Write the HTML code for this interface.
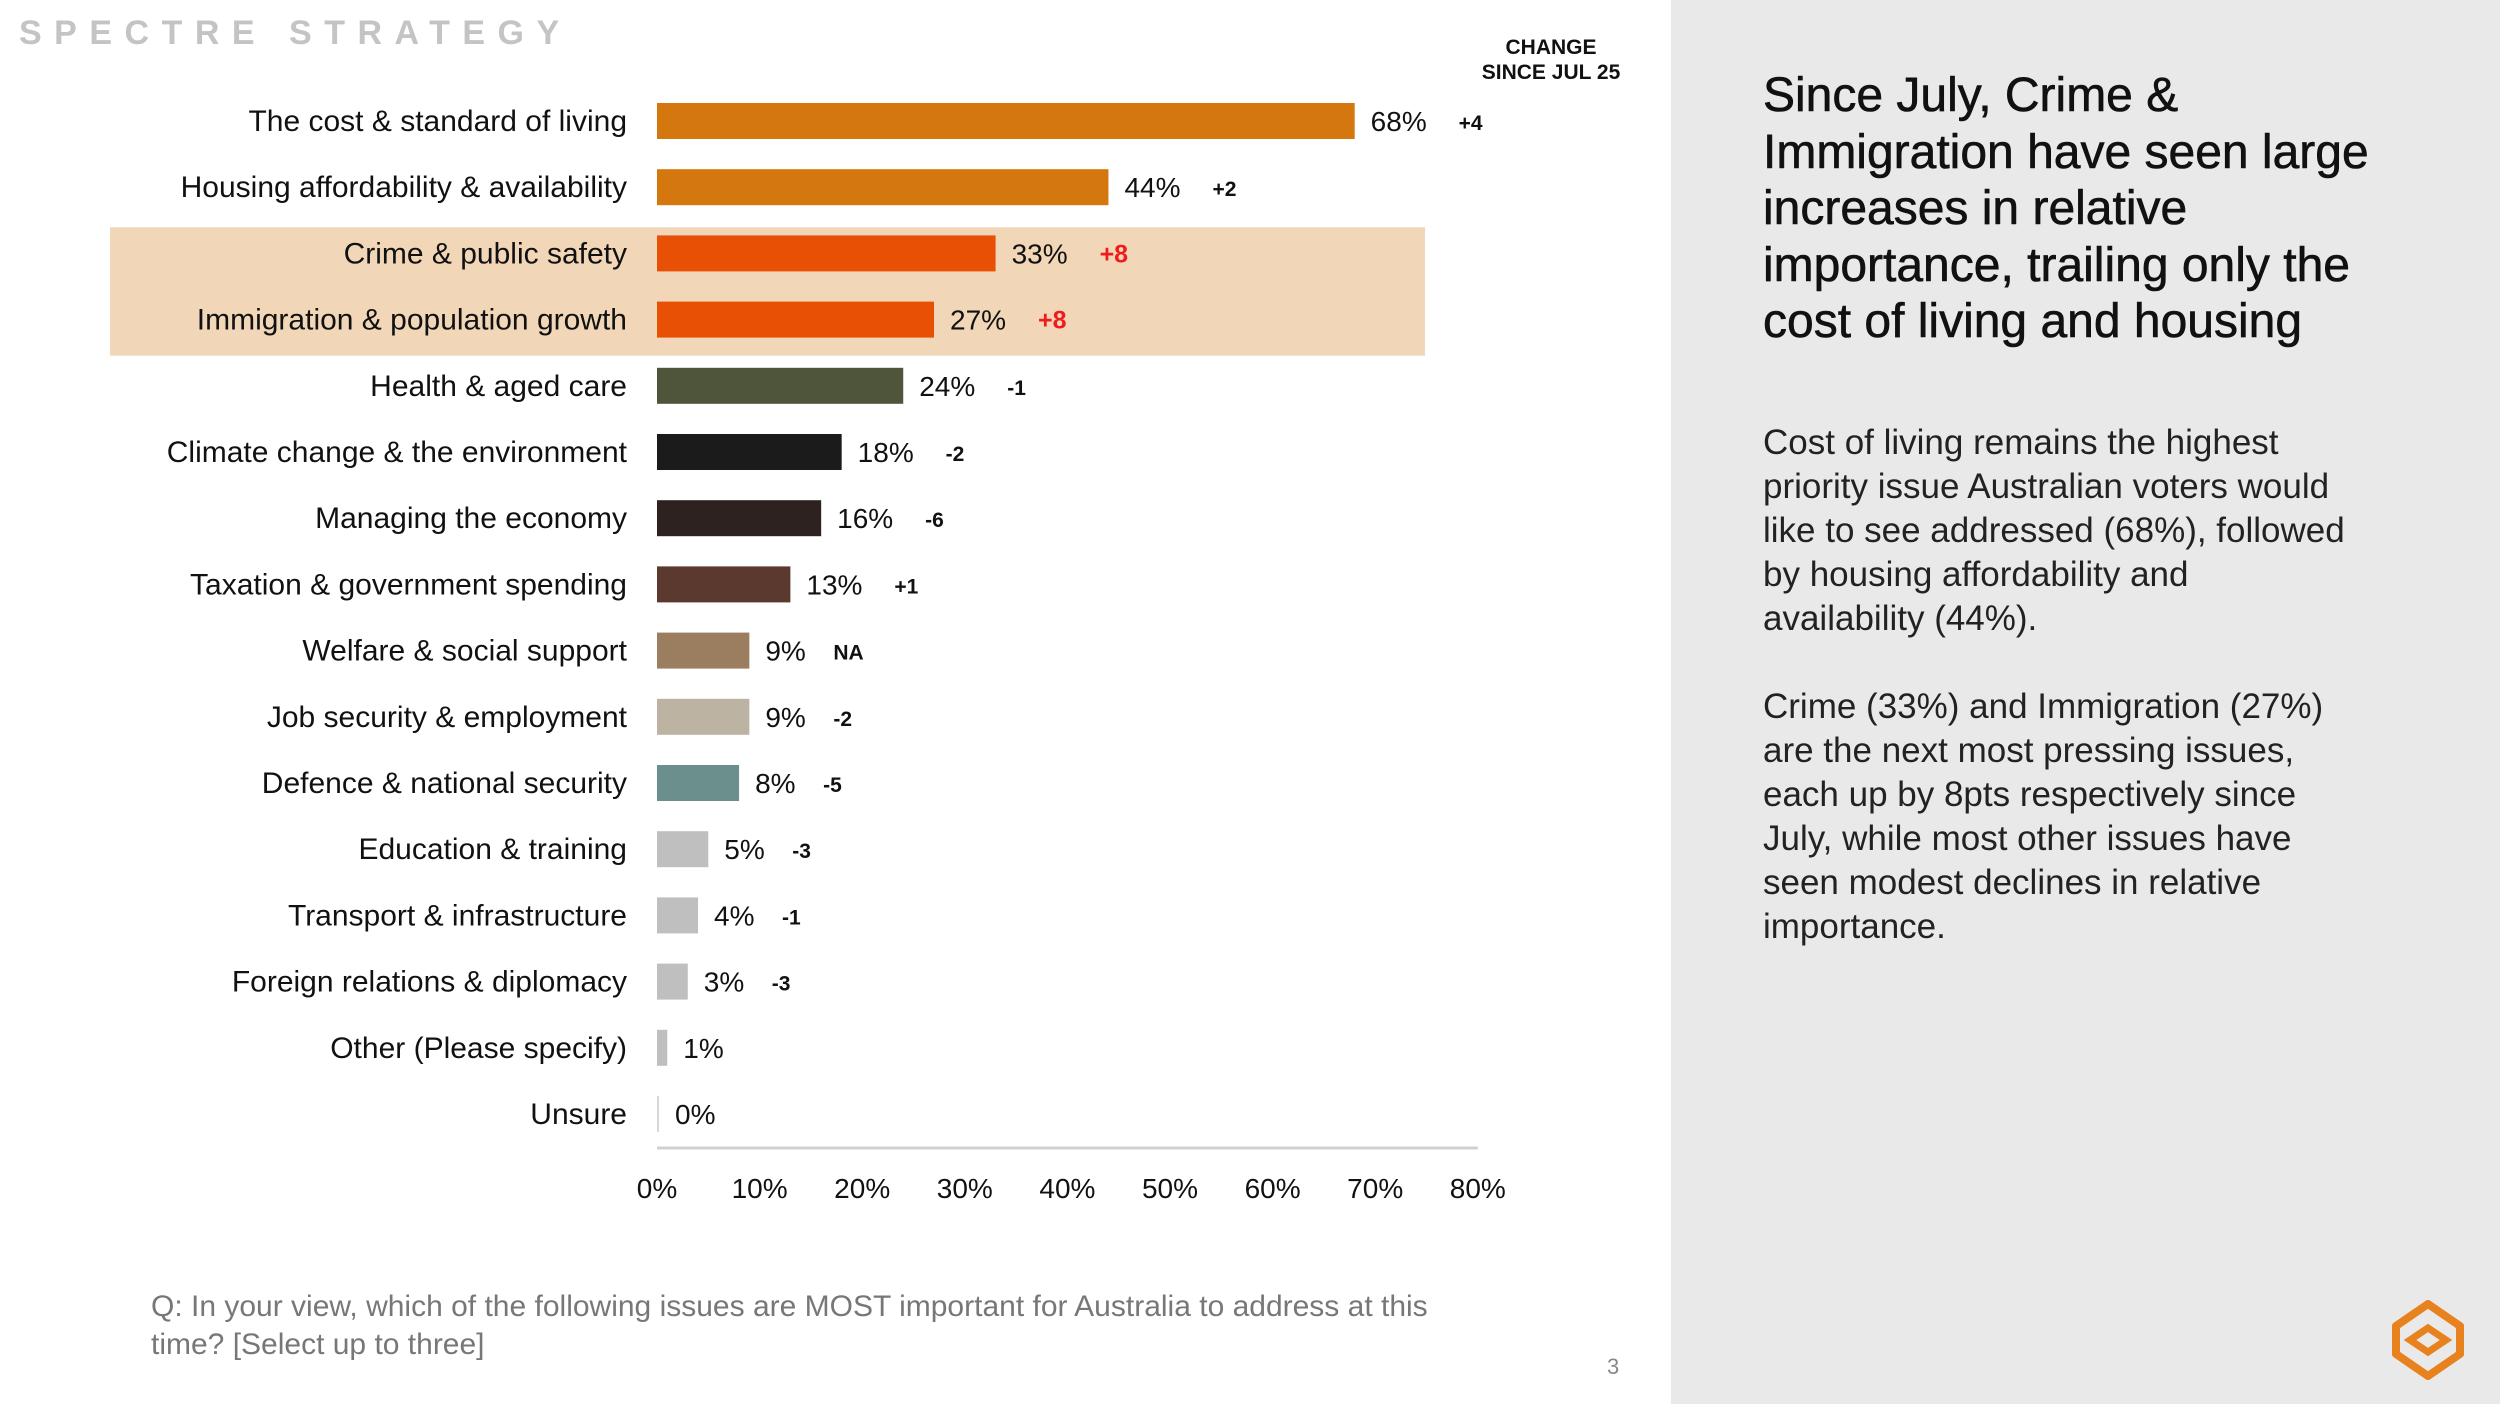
<!DOCTYPE html>
<html><head><meta charset="utf-8"><style>
body{margin:0;width:2500px;height:1404px;overflow:hidden;background:#fff;font-family:"Liberation Sans",sans-serif;position:relative}
.panel{position:absolute;left:1671px;top:0;width:829px;height:1404px;background:#e9e9e9}
.brand{position:absolute;left:19px;top:14px;font-size:34px;letter-spacing:12.5px;color:#c4c4c4;font-weight:bold}
.title{position:absolute;left:1763px;top:68px;font-size:48px;line-height:56.5px;color:#111;white-space:nowrap;-webkit-text-stroke:0.6px #111}
.body{position:absolute;left:1763px;top:421px;font-size:35px;line-height:44px;color:#222;white-space:nowrap}
.q{position:absolute;left:151px;top:1288px;font-size:30px;line-height:38px;color:#777;width:1400px}
.pg{position:absolute;left:1607px;top:1354px;font-size:22px;color:#888}
</style></head><body>
<div class="panel"></div>
<div class="brand">SPECTRE STRATEGY</div>
<div class="title">Since July, Crime &amp;<br>Immigration have seen large<br>increases in relative<br>importance, trailing only the<br>cost of living and housing</div>
<div class="body">Cost of living remains the highest<br>priority issue Australian voters would<br>like to see addressed (68%), followed<br>by housing affordability and<br>availability (44%).<br><br>Crime (33%) and Immigration (27%)<br>are the next most pressing issues,<br>each up by 8pts respectively since<br>July, while most other issues have<br>seen modest declines in relative<br>importance.</div>
<div class="q">Q: In your view, which of the following issues are MOST important for Australia to address at this<br>time? [Select up to three]</div>
<div class="pg">3</div>
<svg style="position:absolute;left:2390px;top:1300px" width="76" height="80" viewBox="0 0 76 80">
<path d="M38 4 L70 26 L70 54 L38 76 L6 54 L6 26 Z" fill="none" stroke="#e8821e" stroke-width="8" stroke-linejoin="round"/>
<path d="M20 40 L38 28 L56 40 L38 52 Z" fill="none" stroke="#e8821e" stroke-width="7"/>
</svg>
<svg id="chart" style="position:absolute;left:0;top:0" width="1671" height="1404"></svg>
<script>
const categories=["The cost & standard of living","Housing affordability & availability","Crime & public safety","Immigration & population growth","Health & aged care","Climate change & the environment","Managing the economy","Taxation & government spending","Welfare & social support","Job security & employment","Defence & national security","Education & training","Transport & infrastructure","Foreign relations & diplomacy","Other (Please specify)","Unsure"];
const values=[68,44,33,27,24,18,16,13,9,9,8,5,4,3,1,0];
const changes=["+4","+2","+8","+8","-1","-2","-6","+1","NA","-2","-5","-3","-1","-3","",""];
const colors=["#d4770f","#d4770f","#e85005","#e85005","#4f553a","#1b1b1b","#2d2220","#5c392e","#9b7d60","#bdb3a3","#6b8f8d","#bfbfbf","#bfbfbf","#bfbfbf","#bfbfbf","#bfbfbf"];
const ticks=[0,10,20,30,40,50,60,70,80];
const highlighted=[2,3];
const svg=document.getElementById('chart');const NS='http://www.w3.org/2000/svg';
const x0=657,pxPer=10.26,yFirst=121,step=66.2,bh=36;
const xs=v=>x0+v*pxPer, ys=i=>yFirst+i*step;
function mk(t,a){const e=document.createElementNS(NS,t);for(const k in a)e.setAttribute(k,a[k]);svg.appendChild(e);return e;}
const hl=mk('rect',{x:110,y:ys(highlighted[0])-step/2+7,width:1315,height:step*highlighted.length-4,fill:'#f2d6b8'});


const h1=mk('text',{x:1551,y:54,'text-anchor':'middle','font-size':21,'font-weight':'bold',fill:'#111'});h1.textContent='CHANGE';


const h2=mk('text',{x:1551,y:79,'text-anchor':'middle','font-size':21,'font-weight':'bold',fill:'#111'});h2.textContent='SINCE JUL 25';


categories.forEach((c,i)=>{
 const y=ys(i);
 const l=mk('text',{x:627,y:y+10,'text-anchor':'end','font-size':30,fill:'#111'});l.textContent=c;
 
 
 const w=Math.max(xs(values[i])-x0,values[i]===0?2:0);
 const r=mk('rect',{x:x0,y:y-bh/2,width:w,height:bh,fill:values[i]===0?'#d8d8d8':colors[i]});
 
 
 const vx=x0+w+16;
 const v=mk('text',{x:vx,y:y+10,'font-size':28,fill:'#111'});v.textContent=values[i]+'%';
 
 
 if(changes[i]){
  const off=(String(values[i]).length>1?88:68);
  const red=highlighted.includes(i);
  const ch=mk('text',{x:vx+off,y:y+9,'font-size':red?25:21,'font-weight':'bold',fill:red?'#ee1c1c':'#111'});ch.textContent=changes[i];
  
  
 }
});
const ax=mk('line',{x1:x0,x2:xs(80),y1:1148,y2:1148,stroke:'#d0d0d0','stroke-width':3});


ticks.forEach(t=>{
 const e=mk('text',{x:xs(t),y:1198,'text-anchor':'middle','font-size':28,fill:'#111'});e.textContent=t+'%';
 
 
});
</script>
</body></html>
